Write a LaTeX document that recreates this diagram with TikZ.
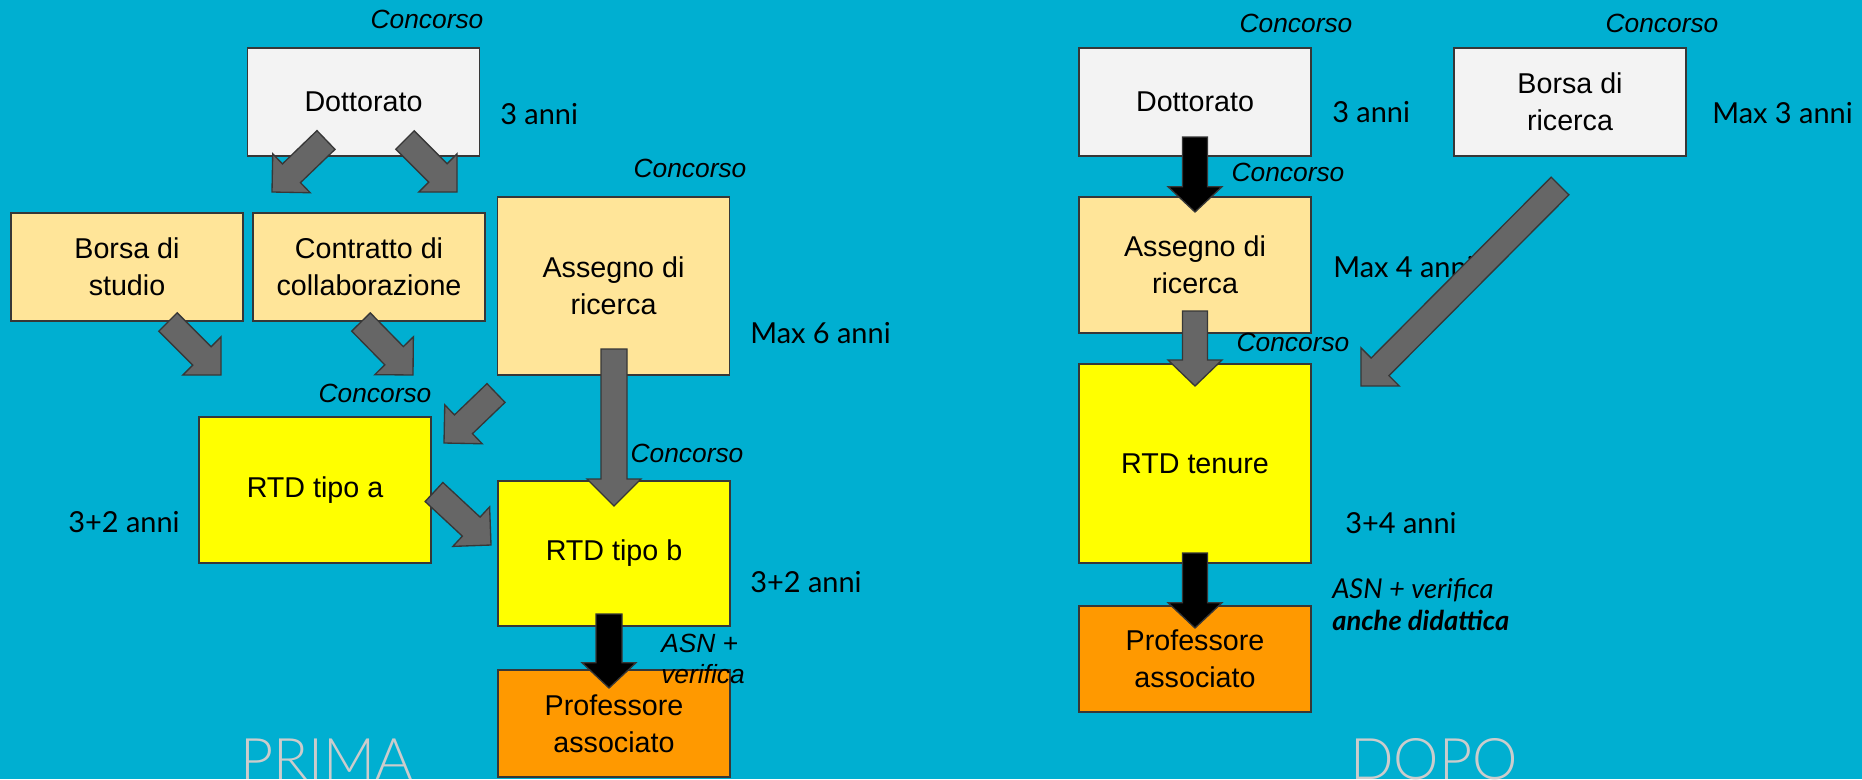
\documentclass[tikz,border=0pt]{standalone}
\usepackage{fontspec}
\setmainfont{Liberation Sans}
\newfontfamily\lato{Lato}
\newfontfamily\latolight{Lato}[UprightFont={* Light}]
\usetikzlibrary{calc}
\definecolor{bg}{RGB}{0,175,209}
\definecolor{boxgray}{RGB}{243,243,243}
\definecolor{boxcream}{RGB}{255,229,153}
\definecolor{boxyellow}{RGB}{255,255,0}
\definecolor{boxorange}{RGB}{255,153,0}
\definecolor{edge}{RGB}{55,55,55}
\definecolor{arrgray}{RGB}{102,102,102}
\definecolor{titlegray}{RGB}{204,204,204}
% style, tail, tip, shaft half width, head half width, head length
\newcommand\blockarrow[6]{%
  \coordinate (ba-h) at ($(#3)!#6!(#2)$);
  \path[#1] ($(#2)!#4!90:(#3)$) -- ($(ba-h)!#4!90:(#3)$) -- ($(ba-h)!#5!90:(#3)$)
    -- (#3) -- ($(ba-h)!#5!-90:(#3)$) -- ($(ba-h)!#4!-90:(#3)$) -- ($(#2)!#4!-90:(#3)$) -- cycle;
}
\tikzset{
  box/.style={draw=edge, line width=1.3pt, minimum width=174pt, inner sep=0pt, align=center,
    font=\fontsize{21.5}{27.75}\selectfont},
  conc/.style={font=\fontsize{19.75}{24}\selectfont\itshape, inner sep=0pt},
  lab/.style={font=\lato\fontsize{21.7}{26}\selectfont, inner sep=0pt, anchor=west},
  garrow/.style={fill=arrgray, draw=edge, line width=1pt, line join=miter},
  barrow/.style={fill=black, draw=edge, line width=1pt, line join=miter},
  title/.style={font=\latolight\fontsize{43}{47}\selectfont, text=titlegray, inner sep=0pt},
}
\begin{document}
\begin{tikzpicture}[x=0.75pt, y=-0.75pt]
\fill[bg] (0,0) rectangle (1862,779);
\useasboundingbox (0,0) rectangle (1862,779);

% ---------------- PRIMA ----------------
\node[box, fill=boxgray, minimum height=81pt] (dottL) at (363.5,102) {Dottorato};
\node[box, fill=boxcream, minimum height=81pt] (borsaS) at (127,267) {Borsa di\\studio};
\node[box, fill=boxcream, minimum height=81pt] (contr) at (369,267) {Contratto di\\collaborazione};
\node[box, fill=boxcream, minimum height=133.5pt] (assL) at (613.5,286) {Assegno di\\ricerca};
\node[box, fill=boxyellow, minimum height=109.5pt] (rtda) at (315,490) {RTD tipo a};
\node[box, fill=boxyellow, minimum height=108.75pt] (rtdb) at (614,553.5) {RTD tipo b};
\node[box, fill=boxorange, minimum height=80.25pt] (profL) at (614,723.5) {Professore\\associato};

\node[conc] (cL1) at (427,19) {Concorso};
\node[lab] (tL1) at (500,114) {3 anni};
\node[conc] (cL2) at (690,168) {Concorso};
\node[lab] (tL2) at (750,333) {Max 6 anni};
\node[conc] (cL3) at (375,393) {Concorso};
\node[lab] (tL3) at (68,522) {3+2 anni};
\node[conc] (cL4) at (687,453) {Concorso};
\node[lab] (tL4) at (750,582) {3+2 anni};

\coordinate (a1s) at (326,140); \coordinate (a1e) at (272,192);
\coordinate (a2s) at (405,140); \coordinate (a2e) at (457,192);
\coordinate (a3s) at (168,322); \coordinate (a3e) at (221,375);
\coordinate (a4s) at (361,322); \coordinate (a4e) at (413,375);
\coordinate (a5s) at (496,393); \coordinate (a5e) at (444,443);
\coordinate (a6s) at (614,349); \coordinate (a6e) at (614,506);
\coordinate (a7s) at (434,492); \coordinate (a7e) at (491,545);
\coordinate (a8s) at (609,614); \coordinate (a8e) at (609,688);
\blockarrow{garrow}{a1s}{a1e}{9.75pt}{20.25pt}{20.25pt}
\blockarrow{garrow}{a2s}{a2e}{9.75pt}{20.25pt}{20.25pt}
\blockarrow{garrow}{a3s}{a3e}{9.75pt}{20.25pt}{20.25pt}
\blockarrow{garrow}{a4s}{a4e}{9.75pt}{20.25pt}{20.25pt}
\blockarrow{garrow}{a5s}{a5e}{9.75pt}{20.25pt}{20.25pt}
\blockarrow{garrow}{a6s}{a6e}{9.75pt}{20.25pt}{20.25pt}
\blockarrow{garrow}{a7s}{a7e}{9.75pt}{20.25pt}{20.25pt}
\blockarrow{barrow}{a8s}{a8e}{9.75pt}{20.25pt}{19pt}

\node[conc, anchor=north west, align=left, font=\fontsize{19.75}{23.25}\selectfont\itshape] (asnL) at (661,634) {ASN +\\verifica};
\node[title] (prima) at (327,759) {PRIMA};

% ---------------- DOPO ----------------
\node[box, fill=boxgray, minimum height=81pt] (dottR) at (1195,102) {Dottorato};
\node[box, fill=boxgray, minimum height=81pt] (borsaR) at (1570,102) {Borsa di\\ricerca};
\node[box, fill=boxcream, minimum height=102pt] (assR) at (1195,265) {Assegno di\\ricerca};
\node[box, fill=boxyellow, minimum height=149.25pt] (rtdt) at (1195,463.5) {RTD tenure};
\node[box, fill=boxorange, minimum height=79.5pt] (profR) at (1195,659) {Professore\\associato};

\node[conc] (cR1) at (1296,23) {Concorso};
\node[conc] (cR2) at (1662,23) {Concorso};
\node[lab] (tR1) at (1332,112) {3 anni};
\node[lab] (tR2) at (1712,113) {Max 3 anni};
\node[conc] (cR3) at (1288,172) {Concorso};
\node[lab] (tR3) at (1333,267) {Max 4 anni};
\node[conc] (cR4) at (1293,342) {Concorso};
\node[lab] (tR4) at (1345,523) {3+4 anni};

\coordinate (b1s) at (1195,137); \coordinate (b1e) at (1195,212);
\coordinate (b2s) at (1195,311); \coordinate (b2e) at (1195,386);
\coordinate (b3s) at (1560,186); \coordinate (b3e) at (1361,386);
\coordinate (b4s) at (1195,553); \coordinate (b4e) at (1195,628);
\blockarrow{barrow}{b1s}{b1e}{9.4pt}{20.25pt}{19pt}
\blockarrow{garrow}{b2s}{b2e}{9.4pt}{20.25pt}{19.5pt}
\blockarrow{garrow}{b3s}{b3e}{9.4pt}{20.25pt}{20.25pt}
\blockarrow{barrow}{b4s}{b4e}{9.4pt}{20.25pt}{19pt}

\node[inner sep=0pt, anchor=north west, align=left, font=\lato\fontsize{20.5}{24}\selectfont] (asnR) at (1332,578)
  {\itshape ASN + verifica\\\bfseries\itshape anche didattica};
\node[title] (dopo) at (1434,759) {DOPO};
\end{tikzpicture}
\end{document}
